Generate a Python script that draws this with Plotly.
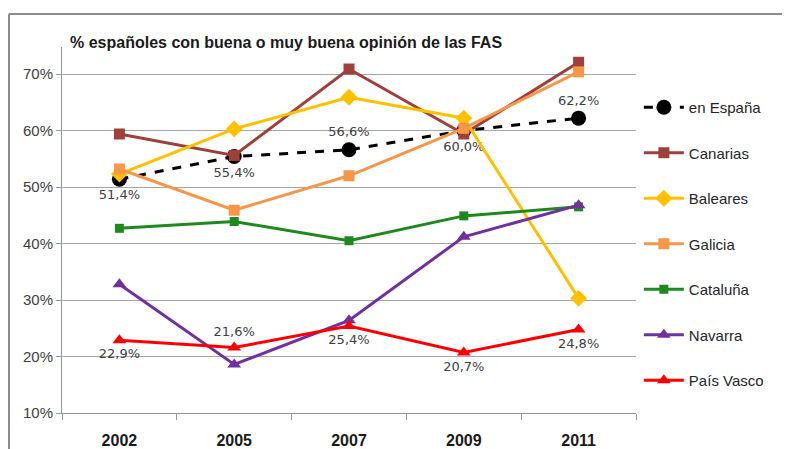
import plotly.graph_objects as go

years = ["2002", "2005", "2007", "2009", "2011"]
espana = [51.4, 55.4, 56.6, 60.0, 62.2]
canarias = [59.4, 55.6, 70.9, 59.4, 72.1]
baleares = [52.3, 60.3, 65.9, 62.2, 30.3]
galicia = [53.2, 45.9, 52.0, 60.4, 70.4]
cataluna = [42.7, 43.9, 40.5, 44.9, 46.5]
navarra = [32.8, 18.6, 26.4, 41.2, 46.8]
pais_vasco = [22.9, 21.6, 25.4, 20.7, 24.8]

espana_pos = ["bottom center", "bottom center", "top center", "bottom center", "top center"]
pv_pos = ["bottom center", "top center", "bottom center", "bottom center", "bottom center"]

def fmt(v):
    return f"{v:.1f}%".replace(".", ",")

fig = go.Figure()

series = [
    ("en España", espana, "#000000", "circle", 15, "dash"),
    ("Canarias", canarias, "#A0403A", "square", 11, "solid"),
    ("Baleares", baleares, "#FFC000", "diamond", 13, "solid"),
    ("Galicia", galicia, "#F79646", "square", 11, "solid"),
    ("Cataluña", cataluna, "#1E8A1E", "square", 9, "solid"),
    ("Navarra", navarra, "#7030A0", "triangle-up", 12, "solid"),
    ("País Vasco", pais_vasco, "#FF0000", "triangle-up", 12, "solid"),
]

for i, (name, vals, color, sym, size, dash) in enumerate(series):
    if name == "en España":
        kw = dict(mode="lines+markers+text", text=[fmt(v) for v in vals],
                  textposition=espana_pos)
    elif name == "País Vasco":
        kw = dict(mode="lines+markers+text", text=[fmt(v) for v in vals],
                  textposition=pv_pos)
    else:
        kw = dict(mode="lines+markers")
    fig.add_trace(go.Scatter(
        x=years, y=vals, name=name, legendgroup=f"g{i}",
        line=dict(color=color, width=3, dash=dash),
        marker=dict(color=color, symbol=sym, size=size),
        textfont=dict(family="DejaVu Sans", size=13, color="#404040"),
        cliponaxis=False,
        **kw,
    ))

# page body has an 8px margin; figure origin sits at (8, 8) of the window
W, H = 782, 441
L, T = 54, 39
PW, PH = 574, 366

fy_top = (T + PH - 6) / PH
fx_left = (1 - L) / PW

fig.update_layout(
    width=W, height=H,
    margin=dict(l=L, r=W - L - PW, t=T, b=H - T - PH, autoexpand=False),
    paper_bgcolor="white", plot_bgcolor="white",
    font=dict(family="Liberation Sans, Arial", color="#404040"),
    title=dict(text="<b>% españoles con buena o muy buena opinión de las FAS</b>",
               x=62 / W, xanchor="left", y=1 - 34 / H, yanchor="middle",
               font=dict(size=16, color="#1a1a1a")),
    showlegend=True,
    legend=dict(x=1.005, xanchor="left", y=(PH - 44) / PH, yanchor="top",
                traceorder="grouped", tracegroupgap=23, maxheight=H,
                font=dict(size=15, color="#262626"), itemwidth=40,
                bgcolor="rgba(0,0,0,0)"),
    xaxis=dict(type="category", range=[-0.5, 4.5], showgrid=False,
               showline=True, linecolor="#969696", linewidth=1,
               ticks="outside", tickson="boundaries", ticklen=6, tickcolor="#969696",
               ticklabelstandoff=13,
               tickfont=dict(size=16, color="#1a1a1a", family="Liberation Sans, Arial"),
               tickprefix="<b>", ticksuffix="</b>"),
    yaxis=dict(range=[10, 74.8], tickvals=[10, 20, 30, 40, 50, 60, 70],
               ticktext=["10%", "20%", "30%", "40%", "50%", "60%", "70%"],
               showgrid=True, gridcolor="#A6A6A6", gridwidth=1,
               showline=True, linecolor="#969696", linewidth=1,
               ticks="outside", ticklen=5, tickcolor="#969696",
               tickfont=dict(size=15, color="#404040"), zeroline=False),
    shapes=[
        dict(type="line", xref="paper", yref="paper",
             x0=fx_left, x1=(W + 20 - L) / PW, y0=fy_top, y1=fy_top,
             line=dict(color="#8C8C8C", width=2), layer="below"),
        dict(type="line", xref="paper", yref="paper",
             x0=fx_left, x1=fx_left, y0=fy_top, y1=-(H + 20 - T - PH) / PH,
             line=dict(color="#8C8C8C", width=2), layer="below"),
    ],
)

fig.write_html(
    "out.html",
    post_script="document.documentElement.style.overflow='hidden';"
                "document.body.style.overflow='hidden';",
)
